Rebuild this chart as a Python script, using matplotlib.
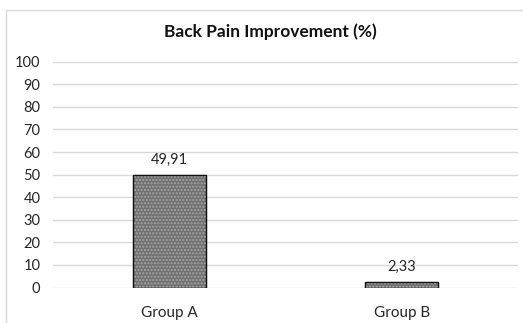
import numpy as np
import matplotlib.pyplot as plt
from matplotlib.patches import Rectangle

groups = ["Group A", "Group B"]
improvement = [49.91, 2.33]
value_labels = ["49,91", "2,33"]
yticks = [0, 10, 20, 30, 40, 50, 60, 70, 80, 90, 100]

plt.rcParams['font.family'] = ['Lato', 'DejaVu Sans']

fig = plt.figure(figsize=(5.23, 3.23), dpi=100)
# light frame around the chart area
fig.patches.append(Rectangle((6 / 523, -0.1), 1.2, 1 - 10 / 323 + 0.1,
                             transform=fig.transFigure, fill=False,
                             edgecolor='#d9d9d9', linewidth=1))
ax = fig.add_axes([53 / 523, 1 - 287.5 / 323, 465 / 523, (287.5 - 61.7) / 323])

x = np.arange(len(groups))
ax.bar(x, improvement, width=0.315, color='#707070', edgecolor='#111111', linewidth=0.9, zorder=3)
# dotted pattern on top of the fill
ax.bar(x, improvement, width=0.315, fill=False, hatch='.....', edgecolor='#a8a8a8', linewidth=0, zorder=4)
ax.bar(x, improvement, width=0.315, fill=False, edgecolor='#111111', linewidth=0.9, zorder=5)

for xi, v, lab in zip(x, improvement, value_labels):
    ax.text(xi, v + 3.5, lab, ha='center', va='bottom', fontsize=10.5, color='#262626')

ax.set_xlim(-0.5, 1.5)
ax.set_ylim(0, 100)
ax.set_yticks(yticks)
ax.set_xticks(x)
ax.set_xticklabels(groups)
ax.grid(axis='y', color='#d9d9d9', linewidth=1, zorder=0)
for s in ax.spines.values():
    s.set_visible(False)
ax.tick_params(axis='y', length=0, pad=9, labelsize=10.5, labelcolor='#262626')
ax.tick_params(axis='x', length=0, pad=13, labelsize=11, labelcolor='#262626')

fig.text(270 / 523, 1 - 32 / 323, "Back Pain Improvement (%)", ha='center', va='center',
         fontsize=12.5, fontweight='bold', color='#111111')

fig.savefig("out.png", dpi=100)
